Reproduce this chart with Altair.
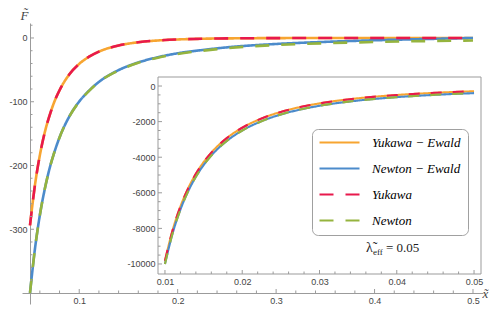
import altair as alt
import pandas as pd

# ---------------- data ----------------
SERIES = ["Yukawa − Ewald", "Newton − Ewald", "Yukawa", "Newton"]
COLORS = ["#F7A531", "#4C8BCB", "#E8194C", "#95B43E"]

X_MAIN = [0.05, 0.055, 0.06, 0.065, 0.07, 0.075, 0.08, 0.09, 0.1, 0.11, 0.12,
          0.14, 0.16, 0.18, 0.2, 0.225, 0.25, 0.3, 0.35, 0.4, 0.45, 0.5]
NEWTON_MAIN = [-400, -331, -278, -237, -204, -178, -156, -123, -100, -83, -69,
               -51, -39, -31, -25, -20, -16, -11.1, -8.2, -6.3, -4.9, -4.0]
NEWTON_EWALD_MAIN = [-400, -331, -278, -237, -204, -178, -156, -123, -99.6, -82.6, -68.9,
                     -50.4, -38.4, -30.1, -24.0, -18.9, -14.7, -9.4, -6.1, -3.6, -1.7, 0.0]
YUKAWA_MAIN = [-294, -231, -184, -148, -121, -99, -82, -57, -40.6, -29.4, -21.4,
               -11.8, -6.7, -3.9, -2.3, -1.2, -0.65, -0.19, -0.06, -0.02, -0.01, 0.0]
YUKAWA_EWALD_MAIN = [-294, -231, -184, -148, -121, -99, -82, -57, -40.6, -29.4, -21.4,
                     -11.8, -6.7, -3.9, -2.3, -1.2, -0.65, -0.19, -0.06, -0.02, -0.01, 0.0]

X_INSET = [0.01, 0.011, 0.012, 0.013, 0.014, 0.015, 0.016, 0.018, 0.02, 0.0225,
           0.025, 0.0275, 0.03, 0.035, 0.04, 0.045, 0.05]
NEWTON_INSET = [-10000, -8264, -6944, -5917, -5102, -4444, -3906, -3086, -2500, -1975,
                -1600, -1322, -1111, -816, -625, -494, -400]
NEWTON_EWALD_INSET = [-10000, -8264, -6944, -5917, -5102, -4444, -3906, -3086, -2500, -1975,
                      -1600, -1322, -1111, -816, -625, -494, -400]
YUKAWA_INSET = [-9825, -8091, -6773, -5749, -4936, -4280, -3744, -2928, -2346, -1826,
                -1456, -1182, -976, -689, -505, -381, -294]
YUKAWA_EWALD_INSET = [-9825, -8091, -6773, -5749, -4936, -4280, -3744, -2928, -2346, -1826,
                      -1456, -1182, -976, -689, -505, -381, -294]

MAIN_X_MAJOR = [0.1, 0.2, 0.3, 0.4, 0.5]
MAIN_X_MINOR = [0.06, 0.08, 0.12, 0.14, 0.16, 0.18, 0.22, 0.24, 0.26, 0.28,
                0.32, 0.34, 0.36, 0.38, 0.42, 0.44, 0.46, 0.48]
MAIN_Y_MAJOR = [0, -100, -200, -300]
MAIN_Y_MINOR = [20, -20, -40, -60, -80, -120, -140, -160, -180, -220, -240,
                -260, -280, -320, -340, -360, -380]
INSET_X_MAJOR = [0.01, 0.02, 0.03, 0.04, 0.05]
INSET_X_MINOR = [0.012, 0.014, 0.016, 0.018, 0.022, 0.024, 0.026, 0.028,
                 0.032, 0.034, 0.036, 0.038, 0.042, 0.044, 0.046, 0.048]
INSET_Y_MAJOR = [0, -2000, -4000, -6000, -8000, -10000]
INSET_Y_MINOR = [-500, -1000, -1500, -2500, -3000, -3500, -4500, -5000, -5500,
                 -6500, -7000, -7500, -8500, -9000, -9500]

PARAM_SYMBOL = "λ\u0303"
PARAM_SUB = "eff"
PARAM_VALUE = "= 0.05"

# ---------------- build tables ----------------
def long_table(xs, columns):
    rows = []
    for name, vals in zip(SERIES, columns):
        for xv, yv in zip(xs, vals):
            rows.append({"x": xv, "y": yv, "series": name})
    return pd.DataFrame(rows)

main_df = long_table(X_MAIN, [YUKAWA_EWALD_MAIN, NEWTON_EWALD_MAIN, YUKAWA_MAIN, NEWTON_MAIN])
inset_df = long_table(X_INSET, [YUKAWA_EWALD_INSET, NEWTON_EWALD_INSET, YUKAWA_INSET, NEWTON_INSET])

# ---------------- layout constants ----------------
W, H = 483, 298
AXIS_GRAY = "#9b9b9b"
LABEL_GRAY = "#444444"
TICK_FONT = "Liberation Sans"
MATH_FONT = "Liberation Serif"

MAIN_X_AXIS_Y = 285      # pixel row of main x axis
MAIN_Y_AXIS_X = 22       # pixel column of main y axis
INSET_LEFT, INSET_RIGHT, INSET_TOP, INSET_BOTTOM = 150, 473, 69, 266

main_x_scale = alt.Scale(domain=[0.04187, 0.51016], range=[14, 475], nice=False, zero=False)
main_y_scale = alt.Scale(domain=[-417.25, 23.5], range=[296, 15], nice=False, zero=False)
inset_x_scale = alt.Scale(domain=[0.0091, 0.0509], range=[INSET_LEFT, INSET_RIGHT], nice=False, zero=False)
inset_y_scale = alt.Scale(domain=[-10563, 507], range=[INSET_BOTTOM, INSET_TOP], nice=False, zero=False)

color_scale = alt.Scale(domain=SERIES, range=COLORS)
dash_scale = alt.Scale(domain=SERIES, range=[[1, 0], [1, 0], [14, 12], [14, 12]])

legend = alt.Legend(
    orient="none", legendX=304, legendY=121, title=None,
    symbolType="M-4,0H4", symbolSize=100, symbolStrokeWidth=2, symbolOffset=14,
    labelFont=MATH_FONT, labelFontStyle="italic", labelFontSize=13, labelColor="black",
    labelOffset=26, rowPadding=12, padding=7,
    strokeColor="#a0a0a0", fillColor="white", cornerRadius=6,
)

label_expr = "datum.value + ''"

main_x_axis = alt.Axis(
    orient="bottom", offset=MAIN_X_AXIS_Y - H, values=MAIN_X_MAJOR, labelExpr=label_expr,
    ticks=False, grid=False, domainColor=AXIS_GRAY, domainWidth=1,
    labelFont=TICK_FONT, labelFontSize=9, labelColor=LABEL_GRAY, labelPadding=3,
    title="x\u0303", titleX=477, titleY=0, titleAngle=0, titleAlign="center",
    titleBaseline="middle", titleFont=MATH_FONT, titleFontStyle="italic",
    titleFontSize=13, titleFontWeight="normal", titleColor=LABEL_GRAY,
)
main_y_axis = alt.Axis(
    orient="left", offset=-MAIN_Y_AXIS_X, values=MAIN_Y_MAJOR, labelExpr=label_expr,
    ticks=False, grid=False, domainColor=AXIS_GRAY, domainWidth=1,
    labelFont=TICK_FONT, labelFontSize=9, labelColor=LABEL_GRAY, labelPadding=3,
    title="F\u0303", titleX=-6, titleY=11, titleAngle=0, titleAlign="center",
    titleBaseline="alphabetic", titleFont=MATH_FONT, titleFontStyle="italic",
    titleFontSize=13, titleFontWeight="normal", titleColor=LABEL_GRAY,
)
inset_x_axis = alt.Axis(
    orient="bottom", offset=INSET_BOTTOM - H, values=INSET_X_MAJOR, labelExpr=label_expr,
    ticks=False, grid=False, domain=False,
    labelFont=TICK_FONT, labelFontSize=9, labelColor=LABEL_GRAY, labelPadding=3, title=" ",
)
inset_y_axis = alt.Axis(
    orient="left", offset=-INSET_LEFT, values=INSET_Y_MAJOR, labelExpr=label_expr,
    ticks=False, grid=False, domain=False,
    labelFont=TICK_FONT, labelFontSize=9, labelColor=LABEL_GRAY, labelPadding=3, title=" ",
)

solid = alt.FieldOneOfPredicate(field="series", oneOf=SERIES[:2])
dashed = alt.FieldOneOfPredicate(field="series", oneOf=SERIES[2:])

# ---------------- helpers ----------------
def xticks(values, scale, axis, base, length):
    return alt.Chart(pd.DataFrame({"v": values})).mark_rule(color=AXIS_GRAY, strokeWidth=1).encode(
        x=alt.X("v:Q", scale=scale, axis=axis),
        y=alt.value(base), y2=alt.value(base - length),
    )

def yticks(values, scale, axis, base, length):
    return alt.Chart(pd.DataFrame({"v": values})).mark_rule(color=AXIS_GRAY, strokeWidth=1).encode(
        y=alt.Y("v:Q", scale=scale, axis=axis),
        x=alt.value(base), x2=alt.value(base + length),
    )

# ---------------- main plot ----------------
def main_lines(pred):
    return alt.Chart(main_df).transform_filter(pred).mark_line(
        strokeWidth=2.6, interpolate="monotone", strokeCap="butt"
    ).encode(
        x=alt.X("x:Q", scale=main_x_scale, axis=main_x_axis),
        y=alt.Y("y:Q", scale=main_y_scale, axis=main_y_axis),
        color=alt.Color("series:N", scale=color_scale, legend=legend),
        strokeDash=alt.StrokeDash("series:N", scale=dash_scale, legend=legend),
    )

main_layer = alt.layer(
    main_lines(solid),
    main_lines(dashed),
    xticks(MAIN_X_MAJOR, main_x_scale, main_x_axis, MAIN_X_AXIS_Y, 4),
    xticks(MAIN_X_MINOR, main_x_scale, main_x_axis, MAIN_X_AXIS_Y, 2.5),
    yticks(MAIN_Y_MAJOR, main_y_scale, main_y_axis, MAIN_Y_AXIS_X, 4),
    yticks(MAIN_Y_MINOR, main_y_scale, main_y_axis, MAIN_Y_AXIS_X, 2.5),
)

# ---------------- inset ----------------
frame = alt.Chart(pd.DataFrame({"a": [0]})).mark_rect(
    fill="white", stroke=AXIS_GRAY, strokeWidth=1
).encode(
    x=alt.XDatum(0.0091, type="quantitative", scale=inset_x_scale, axis=inset_x_axis),
    x2=alt.X2Datum(0.0509),
    y=alt.YDatum(-10563, type="quantitative", scale=inset_y_scale, axis=inset_y_axis),
    y2=alt.Y2Datum(507),
)

def inset_lines(pred, dash):
    return alt.Chart(inset_df).transform_filter(pred).mark_line(
        strokeWidth=2.1, interpolate="monotone", strokeDash=dash, strokeCap="butt"
    ).encode(
        x=alt.X("x:Q", scale=inset_x_scale, axis=inset_x_axis),
        y=alt.Y("y:Q", scale=inset_y_scale, axis=inset_y_axis),
        color=alt.Color("series:N", scale=color_scale, legend=legend),
    )

inset_layer = alt.layer(
    frame,
    xticks(INSET_X_MAJOR, inset_x_scale, inset_x_axis, INSET_BOTTOM, 4),
    xticks(INSET_X_MINOR, inset_x_scale, inset_x_axis, INSET_BOTTOM, 2.5),
    yticks(INSET_Y_MAJOR, inset_y_scale, inset_y_axis, INSET_LEFT, 4),
    yticks(INSET_Y_MINOR, inset_y_scale, inset_y_axis, INSET_LEFT, 2.5),
    inset_lines(solid, [1, 0]),
    inset_lines(dashed, [11, 11]),
)

# ---------------- parameter annotation ----------------
def note(text, x, y, size):
    return alt.Chart(pd.DataFrame({"t": [text]})).mark_text(
        font=MATH_FONT, fontSize=size, align="left",
        baseline="alphabetic", color="#222222"
    ).encode(text="t:N", x=alt.value(x), y=alt.value(y))

notes = alt.layer(
    note(PARAM_SYMBOL, 358, 244, 14),
    note(PARAM_SUB, 365, 247, 9),
    note(PARAM_VALUE, 378, 244, 13),
)

chart = alt.layer(main_layer, inset_layer, notes).resolve_scale(
    x="independent", y="independent"
).properties(
    width=W, height=H, autosize=alt.AutoSizeParams(type="none"), padding=0,
    background="white",
).configure_view(stroke="transparent")

chart.save("out.html", embed_options={"renderer": "svg", "actions": False})
